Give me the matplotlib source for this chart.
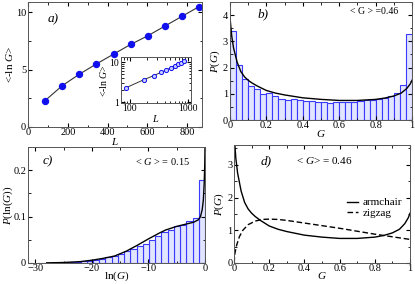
import numpy as np
import matplotlib
matplotlib.use("Agg")
from matplotlib import pyplot as plt
from matplotlib.ticker import MultipleLocator, NullFormatter

plt.rcParams['font.family'] = ['Liberation Serif', 'DejaVu Serif']
plt.rcParams['mathtext.fontset'] = 'custom'
plt.rcParams['mathtext.rm'] = 'Liberation Serif'
plt.rcParams['mathtext.it'] = 'Liberation Serif:italic'
plt.rcParams['font.size'] = 7.5
plt.rcParams['axes.labelsize'] = 8
plt.rcParams['axes.linewidth'] = 0.7
plt.rcParams['axes.edgecolor'] = '#555555'
plt.rcParams['xtick.direction'] = 'in'
plt.rcParams['ytick.direction'] = 'in'
plt.rcParams['xtick.top'] = True
plt.rcParams['ytick.right'] = True
plt.rcParams['xtick.major.size'] = 3
plt.rcParams['ytick.major.size'] = 3
plt.rcParams['xtick.minor.size'] = 1.8
plt.rcParams['ytick.minor.size'] = 1.8
plt.rcParams['xtick.major.pad'] = 0.8
plt.rcParams['ytick.major.pad'] = 1.3

# a) <-ln G> vs L
L = [86, 172, 258, 344, 430, 516, 602, 688, 774, 860]
lnG = [2.3, 3.6, 4.6, 5.5, 6.35, 7.2, 7.95, 8.8, 9.65, 10.5]

# b) histogram of G (30 bins on [0,1])
histG = [3.4, 2.09, 1.56, 1.3, 1.18, 1.0, 1.04, 0.92, 0.8, 0.75,
         0.8, 0.75, 0.72, 0.72, 0.68, 0.68, 0.67, 0.7, 0.7, 0.7,
         0.7, 0.72, 0.75, 0.75, 0.8, 0.85, 0.93, 1.05, 1.35, 3.27]

# armchair distribution
G_arm = [0.002, 0.01, 0.02, 0.04, 0.06, 0.08, 0.1, 0.12, 0.15, 0.2, 0.25, 0.3,
         0.4, 0.5, 0.6, 0.7, 0.8, 0.85, 0.9, 0.94, 0.97, 0.99, 1.0]
P_arm = [3.8, 3.2, 2.75, 2.2, 1.85, 1.65, 1.52, 1.42, 1.3, 1.13, 1.03, 0.96,
         0.85, 0.79, 0.75, 0.75, 0.79, 0.84, 0.92, 1.03, 1.2, 1.38, 1.52]

# zigzag distribution
G_zz = [0.0, 0.005, 0.015, 0.03, 0.05, 0.08, 0.12, 0.16, 0.2, 0.25, 0.3,
        0.4, 0.5, 0.6, 0.7, 0.8, 0.9, 1.0]
P_zz = [0.0, 0.3, 0.55, 0.8, 1.0, 1.17, 1.28, 1.33, 1.34, 1.33, 1.3,
        1.22, 1.14, 1.06, 0.97, 0.88, 0.8, 0.72]

# c) histogram of ln(G), listed from 0 going left
histLn = [0.179, 0.098, 0.090, 0.083, 0.079, 0.072, 0.066, 0.058, 0.050, 0.042,
          0.037, 0.031, 0.025, 0.020, 0.016, 0.012, 0.009, 0.007, 0.005, 0.004,
          0.003, 0.002, 0.0015, 0.001, 0.0007, 0.0005, 0.0003]
lnx = [-28, -25, -22, -20, -18, -16, -14, -12, -10, -8, -7, -6, -5, -4, -3, -2,
       -1.2, -0.8, -0.5, -0.3, -0.15, -0.05, 0]
lnP = [0.0003, 0.001, 0.003, 0.006, 0.010, 0.015, 0.025, 0.038, 0.052, 0.065,
       0.071, 0.075, 0.079, 0.082, 0.085, 0.088, 0.093, 0.100, 0.115, 0.135,
       0.17, 0.21, 0.25]

bar_edge = '#3a3aff'
bar_face = '#e2e5ff'

fig = plt.figure(figsize=(4.15, 2.84), dpi=100)

# ---- a)
ax = fig.add_axes([0.0675, 0.553, 0.4195, 0.44])
ax.plot(L, lnG, color='#333333', lw=0.8)
ax.plot(L, lnG, 'o', color='#1010ee', ms=4.3, ls='none')
ax.set_xlim(0, 875)
ax.set_ylim(0, 10.9)
ax.xaxis.set_major_locator(MultipleLocator(200))
ax.xaxis.set_minor_locator(MultipleLocator(100))
ax.yaxis.set_major_locator(MultipleLocator(5))
ax.yaxis.set_minor_locator(MultipleLocator(2.5))
ax.set_xlabel('$L$', labelpad=-0.5)
ax.set_ylabel('<-ln $G$>', labelpad=0.5)
ax.text(0.11, 0.84, 'a)', transform=ax.transAxes, fontstyle='italic', fontsize=9.5)

ins = fig.add_axes([0.2916, 0.637, 0.1687, 0.162])
ins.loglog(L, lnG, color='#333333', lw=0.7)
ins.plot(L, lnG, 'o', mfc='#c8ccff', mec='#1010ee', mew=0.7, ms=3, ls='none')
ins.set_xlim(70, 1150)
ins.set_ylim(0.95, 13.3)
ins.tick_params(labelsize=7, which='both')
ins.yaxis.set_minor_formatter(NullFormatter())
ins.xaxis.set_minor_formatter(NullFormatter())
ins.set_xticks([100, 1000])
ins.set_xticklabels(['100', '1000'])
ins.set_yticks([1, 10])
ins.set_yticklabels(['1', '10'])
ins.set_xlabel('$L$', labelpad=-0.5, fontsize=7.5)
ins.set_ylabel('<-ln $G$>', labelpad=0, fontsize=7)

# ---- b)
ax = fig.add_axes([0.554, 0.577, 0.439, 0.416])
w = 1.0 / len(histG)
ax.bar([i * w for i in range(len(histG))], histG, width=w, align='edge',
       facecolor=bar_face, edgecolor=bar_edge, lw=0.8)
ax.plot(G_arm, P_arm, color='black', lw=1.0)
ax.set_xlim(0, 1)
ax.set_ylim(0, 4.5)
ax.xaxis.set_minor_locator(MultipleLocator(0.1))
ax.yaxis.set_major_locator(MultipleLocator(1))
ax.yaxis.set_minor_locator(MultipleLocator(0.5))
ax.set_xticks([0, 0.2, 0.4, 0.6, 0.8, 1.0])
ax.set_xticklabels(['0', '0.2', '0.4', '0.6', '0.8', '1'])
ax.set_xlabel('$G$', labelpad=-1.5)
ax.set_ylabel('$P(G)$', labelpad=0.5)
ax.text(0.15, 0.87, 'b)', transform=ax.transAxes, fontstyle='italic', fontsize=9.5)
ax.text(0.79, 0.9, '< G > =0.46', transform=ax.transAxes, ha='center', fontsize=7)

# ---- c)
ax = fig.add_axes([0.0675, 0.074, 0.4265, 0.408])
wl = 1.1
left = [-(i + 1) * wl for i in range(len(histLn))]
ax.bar(left, histLn, width=wl, align='edge',
       facecolor=bar_face, edgecolor=bar_edge, lw=0.8)
ax.plot(lnx, lnP, color='black', lw=1.0)
ax.set_xlim(-31.3, 0)
ax.set_ylim(0, 0.25)
ax.xaxis.set_major_locator(MultipleLocator(10))
ax.xaxis.set_minor_locator(MultipleLocator(5))
ax.yaxis.set_minor_locator(MultipleLocator(0.05))
ax.set_yticks([0, 0.1, 0.2])
ax.set_yticklabels(['0', '0.1', '0.2'])
ax.set_xlabel('ln$(G)$', labelpad=-2.5)
ax.set_ylabel(r'$P(\mathrm{ln}(G))$', labelpad=-1)
ax.text(0.085, 0.85, 'c)', transform=ax.transAxes, fontstyle='italic', fontsize=9.5)
ax.text(0.76, 0.845, '< $G$ > = 0.15', transform=ax.transAxes, ha='center', fontsize=7.5)

# ---- d)
ax = fig.add_axes([0.564, 0.074, 0.424, 0.415])
ax.plot(G_arm, P_arm, color='black', lw=1.0, label='armchair')
ax.plot(G_zz, P_zz, color='black', lw=1.0, ls=(0, (4, 2)), label='zigzag')
ax.set_xlim(0, 1)
ax.set_ylim(0, 3.6)
ax.xaxis.set_minor_locator(MultipleLocator(0.1))
ax.yaxis.set_major_locator(MultipleLocator(1))
ax.yaxis.set_minor_locator(MultipleLocator(0.5))
ax.set_xticks([0, 0.2, 0.4, 0.6, 0.8, 1.0])
ax.set_xticklabels(['0', '0.2', '0.4', '0.6', '0.8', '1'])
ax.set_xlabel('$G$', labelpad=-2.5)
ax.set_ylabel('$P(G)$', labelpad=0.5)
ax.text(0.15, 0.84, 'd)', transform=ax.transAxes, fontstyle='italic', fontsize=9.5)
ax.text(0.51, 0.84, '< $G$> = 0.46', transform=ax.transAxes, ha='center', fontsize=8)
ax.legend(loc='upper right', bbox_to_anchor=(1.0, 0.62), frameon=False,
          fontsize=8, handlelength=1.0, handletextpad=0.4, labelspacing=0.1,
          borderpad=0.2)

fig.savefig('out.png', dpi=100)
